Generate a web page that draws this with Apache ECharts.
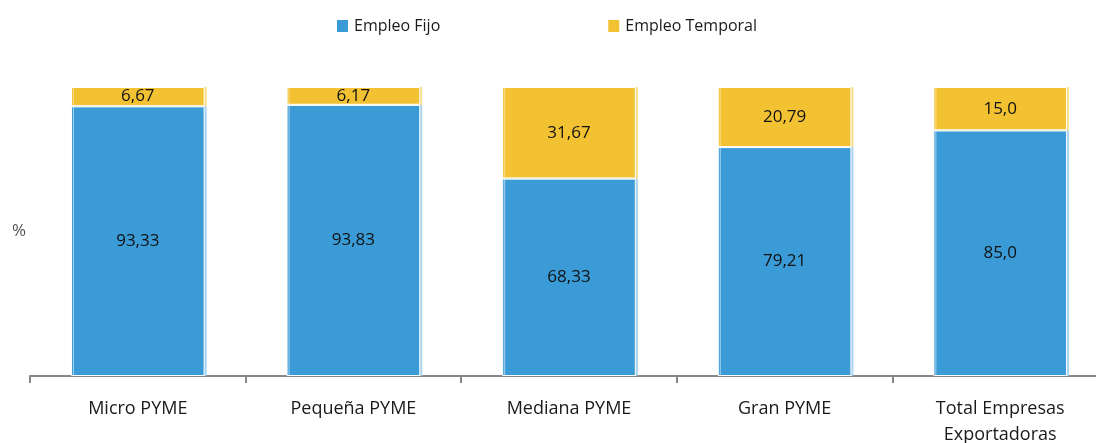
<!DOCTYPE html>
<html>
<head>
<meta charset="utf-8">
<script src="https://cdn.jsdelivr.net/npm/echarts@6/dist/echarts.min.js"></script>
<style>
  html, body { margin: 0; padding: 0; background: #fff; }
  #chart { width: 1096px; height: 443px; }
</style>
</head>
<body>
<div id="chart"></div>
<script>
const categories = ['Micro PYME', 'Pequeña PYME', 'Mediana PYME', 'Gran PYME', 'Total Empresas\nExportadoras'];
const fijo = [93.33, 93.83, 68.33, 79.21, 85.0];
const temporal = [6.67, 6.17, 31.67, 20.79, 15.0];
const fijoLabels = ['93,33', '93,83', '68,33', '79,21', '85,0'];
const temporalLabels = ['6,67', '6,17', '31,67', '20,79', '15,0'];

const font = '"Open Sans", sans-serif';
const chart = echarts.init(document.getElementById('chart'));

const barStyle = (color, shadow) => ({
  color: color,
  borderColor: '#fff',
  borderWidth: 1,
  shadowColor: shadow,
  shadowOffsetX: 2,
  shadowBlur: 0
});

chart.setOption({
  animation: false,
  textStyle: { fontFamily: font },
  legend: {
    top: 13,
    left: 330,
    itemWidth: 13,
    itemHeight: 14,
    itemGap: 166,
    icon: 'rect',
    textStyle: { fontSize: 16, color: '#1a1a1a', fontFamily: font },
    data: ['Empleo Fijo', 'Empleo Temporal']
  },
  grid: { left: 30, right: -12, top: 87, bottom: 67, containLabel: false, outerBoundsMode: 'none' },
  xAxis: {
    type: 'category',
    data: categories,
    axisLine: { lineStyle: { color: '#888', width: 2 } },
    axisTick: { show: true, length: 7, lineStyle: { color: '#888', width: 2 } },
    axisLabel: { fontSize: 18, color: '#1a1a1a', margin: 20, lineHeight: 26, fontFamily: font }
  },
  yAxis: {
    type: 'value',
    min: 0,
    max: 100,
    name: '%',
    nameLocation: 'middle',
    nameRotate: 0,
    nameGap: 4,
    nameTextStyle: { fontSize: 17, color: '#555', fontFamily: font },
    axisLine: { show: false },
    axisTick: { show: false },
    axisLabel: { show: false },
    splitLine: { show: false }
  },
  series: [
    {
      name: 'Empleo Fijo',
      type: 'bar',
      stack: 'total',
      barWidth: '62%',
      data: fijo,
      itemStyle: barStyle('#3a9bd7', '#a9d3ef'),
      label: {
        show: true,
        position: 'inside',
        fontSize: 17,
        color: '#111',
        fontFamily: font,
        formatter: (p) => fijoLabels[p.dataIndex]
      }
    },
    {
      name: 'Empleo Temporal',
      type: 'bar',
      stack: 'total',
      data: temporal,
      itemStyle: barStyle('#f3c233', '#f8dc8a'),
      label: {
        show: true,
        position: 'inside',
        fontSize: 17,
        color: '#111',
        fontFamily: font,
        formatter: (p) => temporalLabels[p.dataIndex]
      }
    }
  ]
});
</script>
</body>
</html>
